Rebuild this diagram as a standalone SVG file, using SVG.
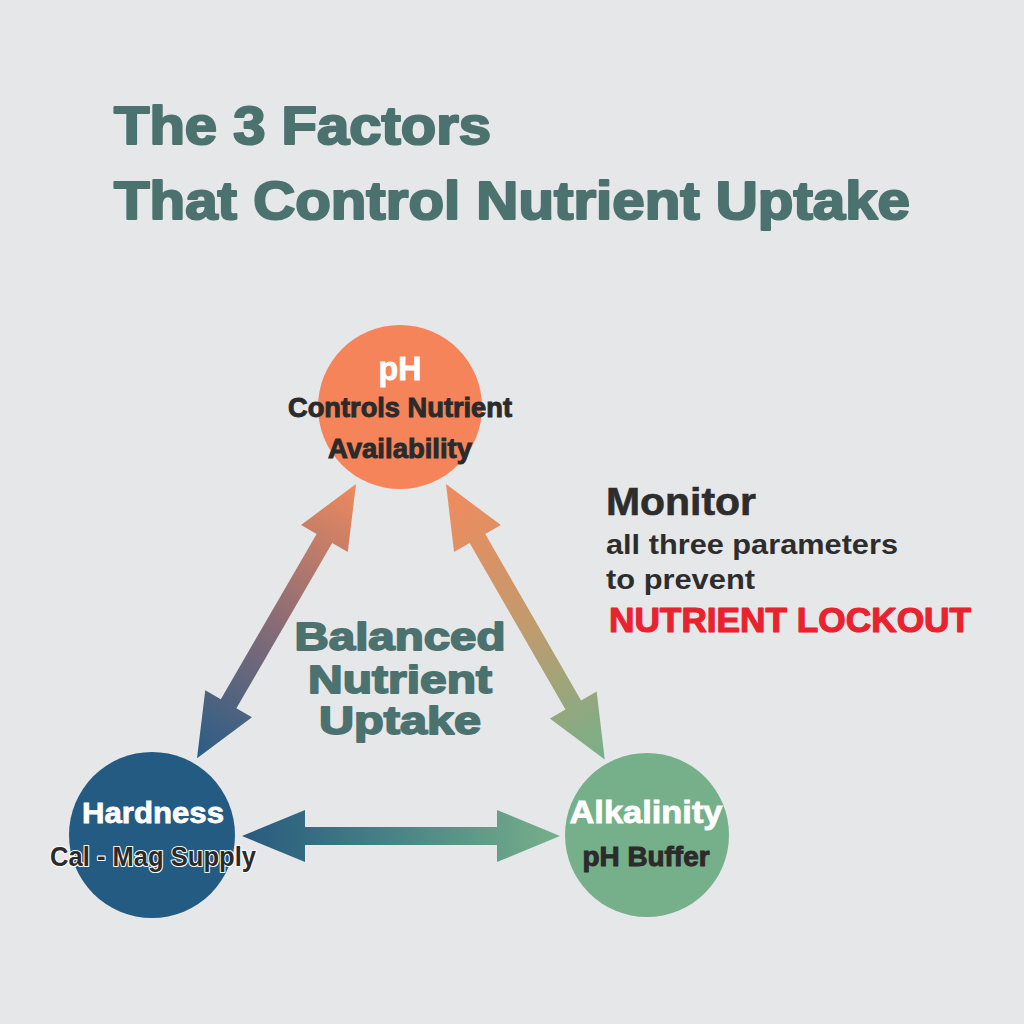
<svg xmlns="http://www.w3.org/2000/svg" width="1024" height="1024" viewBox="0 0 1024 1024">
<defs>
<style>
.t{font-family:"Liberation Sans",Arial,sans-serif;font-weight:bold;}
.title{fill:#4c726f;stroke:#4c726f;stroke-width:2.2px;font-size:53px;stroke-linejoin:round;}
.mid{fill:#4c726f;stroke:#4c726f;stroke-width:1.8px;font-size:39px;stroke-linejoin:round;}
.wh{fill:#ffffff;stroke:#ffffff;stroke-width:0.8px;}
.dk{fill:#2b2b2b;stroke:#2b2b2b;stroke-width:1px;}
</style>
<linearGradient id="gL" gradientUnits="userSpaceOnUse" x1="0" y1="0" x2="317" y2="0">
<stop offset="0" stop-color="#f08a5d"/>
<stop offset="0.5" stop-color="#8a6c76"/>
<stop offset="1" stop-color="#285d86"/>
</linearGradient>
<linearGradient id="gR" gradientUnits="userSpaceOnUse" x1="0" y1="0" x2="318" y2="0">
<stop offset="0" stop-color="#f28a5e"/>
<stop offset="0.5" stop-color="#c39a6c"/>
<stop offset="1" stop-color="#76b08a"/>
</linearGradient>
<linearGradient id="gH" gradientUnits="userSpaceOnUse" x1="0" y1="0" x2="318" y2="0">
<stop offset="0" stop-color="#27597f"/>
<stop offset="0.5" stop-color="#4a8586"/>
<stop offset="1" stop-color="#77b08a"/>
</linearGradient>
</defs>
<rect width="1024" height="1024" fill="#e6e7e8"/>

<g id="title">
<text class="t title" x="114" y="144" textLength="377" lengthAdjust="spacingAndGlyphs">The 3 Factors</text>
<text class="t title" x="114" y="219" textLength="796" lengthAdjust="spacingAndGlyphs">That Control Nutrient Uptake</text>
</g>

<g id="connectors">
<polygon transform="translate(356,484) rotate(120.1)" fill="url(#gL)" points="0,0 63,-27 63,-9 254,-9 254,-27 317,0 254,27 254,9 63,9 63,27"/>
<polygon transform="translate(446,484) rotate(60.06)" fill="url(#gR)" points="0,0 63,-27 63,-9 255,-9 255,-27 318,0 255,27 255,9 63,9 63,27"/>
<polygon transform="translate(242,836)" fill="url(#gH)" points="0,0 63,-26 63,-9 255,-9 255,-26 318,0 255,26 255,9 63,9 63,26"/>
</g>

<g id="center-label">
<text class="t mid" x="400" y="650" text-anchor="middle" textLength="211" lengthAdjust="spacingAndGlyphs">Balanced</text>
<text class="t mid" x="400" y="693" text-anchor="middle" textLength="184" lengthAdjust="spacingAndGlyphs">Nutrient</text>
<text class="t mid" x="400" y="734" text-anchor="middle" textLength="162" lengthAdjust="spacingAndGlyphs">Uptake</text>
</g>

<g id="node-ph">
<circle cx="400" cy="407" r="82" fill="#f5845a"/>
<text class="t wh" x="400" y="380" font-size="34" text-anchor="middle" textLength="43" lengthAdjust="spacingAndGlyphs">pH</text>
<text class="t dk" x="400" y="417" font-size="28" text-anchor="middle" textLength="224" lengthAdjust="spacingAndGlyphs">Controls Nutrient</text>
<text class="t dk" x="400" y="458" font-size="28" text-anchor="middle" textLength="144" lengthAdjust="spacingAndGlyphs">Availability</text>
</g>

<g id="node-hardness">
<circle cx="152" cy="835" r="83" fill="#235b82"/>
<text class="t wh" x="153" y="823" font-size="30" text-anchor="middle" textLength="142" lengthAdjust="spacingAndGlyphs">Hardness</text>
<text class="t" x="153" y="866" font-size="28" text-anchor="middle" textLength="206" lengthAdjust="spacingAndGlyphs" fill="#2b2b2b" stroke="#ffffff" stroke-width="2.2" stroke-linejoin="round" paint-order="stroke">Cal - Mag Supply</text>
</g>

<g id="node-alkalinity">
<circle cx="647" cy="835" r="82" fill="#76b08a"/>
<text class="t wh" x="646" y="823" font-size="31" text-anchor="middle" textLength="153" lengthAdjust="spacingAndGlyphs">Alkalinity</text>
<text class="t dk" x="646" y="866" font-size="27" text-anchor="middle" textLength="127" lengthAdjust="spacingAndGlyphs">pH Buffer</text>
</g>

<g id="note">
<text class="t" x="606" y="515" font-size="38" fill="#2d2d2d" stroke="#2d2d2d" stroke-width="0.6" textLength="150" lengthAdjust="spacingAndGlyphs">Monitor</text>
<text class="t" x="606" y="554" font-size="28" fill="#2d2d2d" textLength="292" lengthAdjust="spacingAndGlyphs">all three parameters</text>
<text class="t" x="606" y="589" font-size="28" fill="#2d2d2d" textLength="149" lengthAdjust="spacingAndGlyphs">to prevent</text>
<text class="t" x="609" y="632" font-size="35" fill="#e8232f" stroke="#e8232f" stroke-width="1.2" stroke-linejoin="round" textLength="362" lengthAdjust="spacingAndGlyphs">NUTRIENT LOCKOUT</text>
</g>
</svg>
